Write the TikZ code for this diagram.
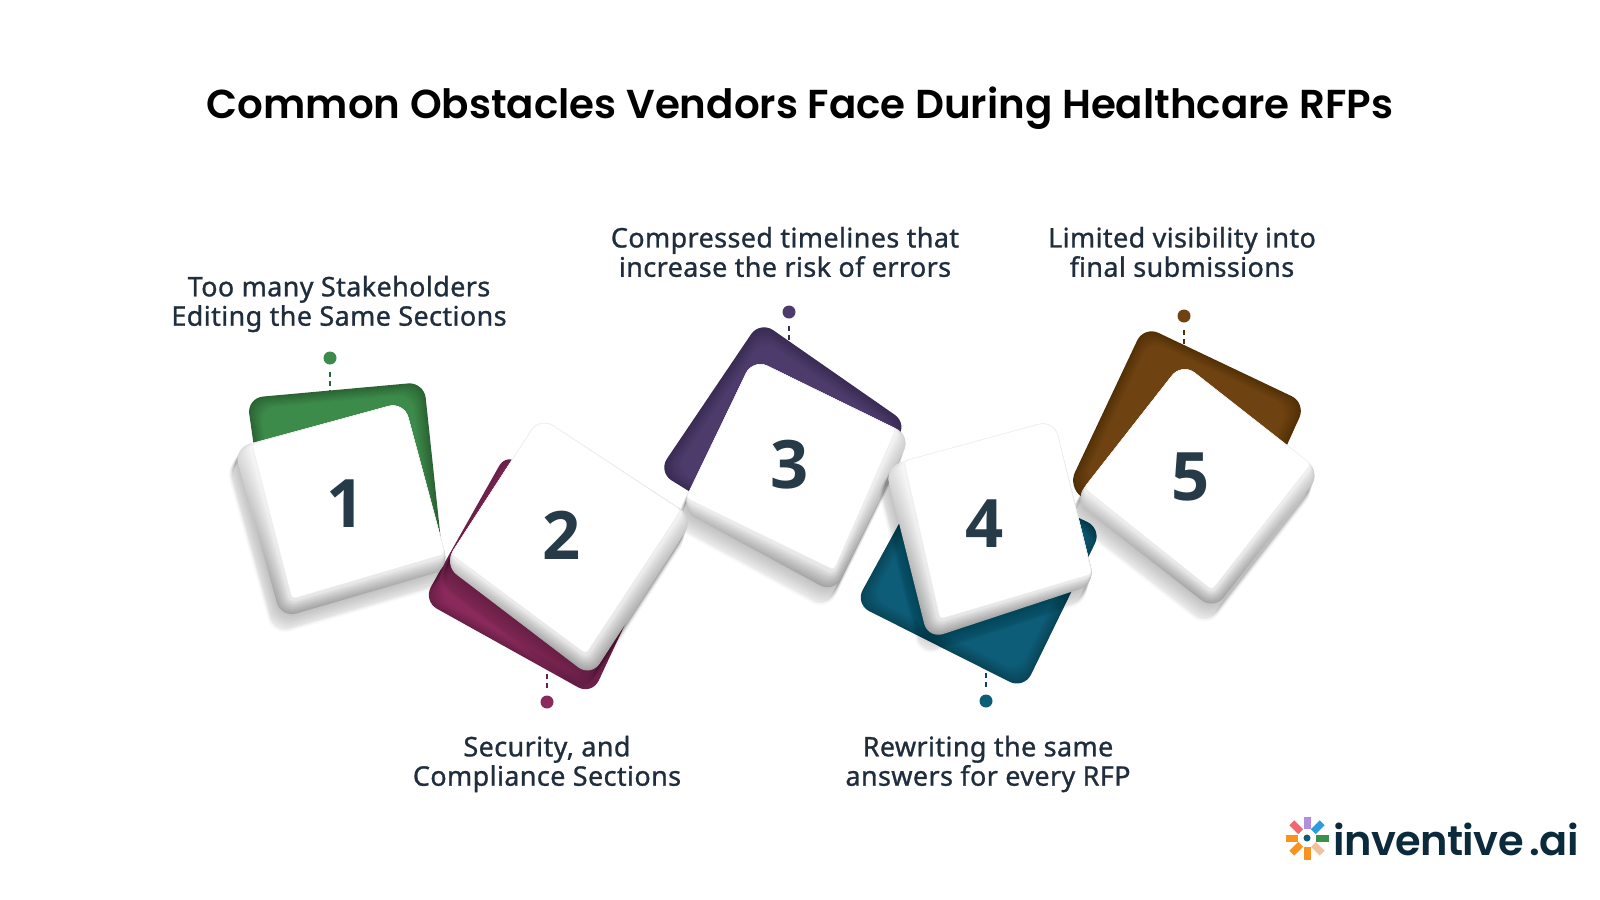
\documentclass[tikz,border=0pt]{standalone}
\usepackage{fontspec}
\usetikzlibrary{calc}
\setmainfont{Noto Sans}
\newfontfamily\titlefont{Poppins}[BoldFont={Poppins SemiBold}]
\newfontfamily\labelfont{Noto Sans}[LetterSpace=1.5,FakeBold=1]
\newfontfamily\numfont{Open Sans}
\newfontfamily\logofont{Poppins}[BoldFont={Poppins SemiBold},LetterSpace=-1.5]

\definecolor{inkdark}{HTML}{1F2D3D}
\definecolor{numink}{HTML}{263A48}
\definecolor{logoink}{HTML}{0B2A3C}
\definecolor{greenbase}{HTML}{3D8B4A}
\definecolor{greendark}{HTML}{2B6434}
\definecolor{plumbase}{HTML}{8A2A5C}
\definecolor{plumdark}{HTML}{6A2048}
\definecolor{purplebase}{HTML}{4C3B6B}
\definecolor{purpledark}{HTML}{3A2C54}
\definecolor{tealbase}{HTML}{0E5D78}
\definecolor{tealdark}{HTML}{094659}
\definecolor{brownbase}{HTML}{6F4311}
\definecolor{browndark}{HTML}{523007}

\tikzset{
	leaddot/.style={circle,fill=#1,inner sep=0pt,minimum size=.13cm},
	leadline/.style={#1,line width=.015cm,dash pattern=on .05cm off .04cm},
	obstacle/.style={font=\labelfont\fontsize{7.66}{8.35}\selectfont,text=inkdark,align=center},
	number/.style={font=\numfont\bfseries\fontsize{19}{19}\selectfont,text=numink}
}

% #1 base colour, #2 dark colour, #3 centre, #4 path
\newcommand{\backcard}[4]{
	\fill[#2,rounded corners=.16cm] #4;
	\foreach \st in {1,...,10}{
		\pgfmathsetmacro{\sc}{1-.014*\st}
		\pgfmathsetmacro{\pc}{10*\st}
		\fill[#1!\pc!#2,rounded corners=.16cm,shift={(#3)},scale=\sc,shift={($(0,0)-(#3)$)}] #4;
	}
}

% #1 prefix of the coordinates: a shared corner, a-d outer, e-h inner
\newcommand{\keycard}[1]{
	\foreach \st in {.1,.2,...,1}{
		\pgfmathsetmacro{\dx}{-7*\st}
		\pgfmathsetmacro{\dy}{16*\st}
		\pgfmathsetmacro{\wd}{.04*\st}
		\filldraw[black,opacity=.022,line width=\wd cm,line join=round,rounded corners=.16cm]
			($(#1a)+(\dx,\dy)$) -- ($(#1b)+(\dx,\dy)$) -- ($(#1c)+(\dx,\dy)$) -- ($(#1d)+(\dx,\dy)$) -- cycle;
	}
	\foreach \st in {0,.1,...,.9}{
		\pgfmathsetmacro{\pa}{36*(1-\st)^.8}
		\pgfmathsetmacro{\pb}{8*(1-\st)^.8}
		\pgfmathsetmacro{\rr}{.16-.12*\st}
		\shade[top color=black!\pb,bottom color=black!\pa,rounded corners=.16cm]
			($(#1a)!\st!(#1e)$) [rounded corners=\rr cm] -- ($(#1b)!\st!(#1f)$) -- ($(#1c)!\st!(#1g)$) -- ($(#1d)!\st!(#1h)$) [rounded corners=.16cm] -- cycle;
	}
	\filldraw[draw=black!7,fill=white,line width=.006cm,rounded corners=.16cm]
		(#1e) [rounded corners=.04cm] -- (#1f) -- (#1g) -- (#1h) [rounded corners=.16cm] -- cycle;
}

\begin{document}
\begin{tikzpicture}[x=.01cm,y=-.01cm]
	\useasboundingbox[fill=white] (0,0) rectangle (1600,900);

	\node[font=\titlefont\bfseries\fontsize{11.48}{14}\selectfont,text=black] (title) at (800,108) {Common Obstacles Vendors Face During Healthcare RFPs};

	% leaders
	\node[leaddot=greenbase] (dot1) at (330,358) {};
	\node[leaddot=plumbase] (dot2) at (547,702) {};
	\node[leaddot=purplebase] (dot3) at (789,312) {};
	\node[leaddot=tealbase] (dot4) at (986,701) {};
	\node[leaddot=brownbase] (dot5) at (1184,316) {};
	\coordinate (end1) at (330,395);
	\coordinate (end2) at (547,670);
	\coordinate (end3) at (789,345);
	\coordinate (end4) at (986,670);
	\coordinate (end5) at (1184,348);
	\draw[leadline=greendark] ([yshift=-.07cm]dot1.south) -- (end1);
	\draw[leadline=plumdark] ([yshift=.07cm]dot2.north) -- (end2);
	\draw[leadline=purpledark] ([yshift=-.07cm]dot3.south) -- (end3);
	\draw[leadline=tealdark] ([yshift=.07cm]dot4.north) -- (end4);
	\draw[leadline=browndark] ([yshift=-.07cm]dot5.south) -- (end5);

	\backcard{greenbase}{greendark}{340,470}{(247,398) -- (424,382) -- (443,560) -- (270,560) -- cycle}
	\backcard{plumbase}{plumdark}{530,580}{(507,452) -- (641,590) -- (592,695) -- (423,601) -- cycle}
	\backcard{purplebase}{purpledark}{780,450}{(760,321) -- (908,424) -- (800,560) -- (658,472) -- cycle}
	\backcard{tealbase}{tealdark}{985,560}{(855,604) -- (912,500) -- (1000,480) -- (1102,529) -- (1024,689) -- cycle}
	\backcard{brownbase}{browndark}{1185,430}{(1144,326) -- (1306,403) -- (1262,500) -- (1100,510) -- (1068,487) -- cycle}

	\coordinate (onea) at (404,402);
	\coordinate (oneb) at (449,569);
	\coordinate (onec) at (281,618);
	\coordinate (oned) at (234,448);
	\coordinate (onee) at (404,402);
	\coordinate (onef) at (445,554);
	\coordinate (oneg) at (292,599);
	\coordinate (oneh) at (252,444);

	\coordinate (twoa) at (540,417);
	\coordinate (twob) at (694,518);
	\coordinate (twoc) at (591,677);
	\coordinate (twod) at (444,565);
	\coordinate (twoe) at (540,417);
	\coordinate (twof) at (681,510);
	\coordinate (twog) at (586,654);
	\coordinate (twoh) at (451,554);

	\coordinate (threea) at (753,359);
	\coordinate (threeb) at (911,436);
	\coordinate (threec) at (834,593);
	\coordinate (threed) at (681,510);
	\coordinate (threee) at (753,359);
	\coordinate (threef) at (896,429);
	\coordinate (threeg) at (834,570);
	\coordinate (threeh) at (686,498);

	\coordinate (foura) at (1054,420);
	\coordinate (fourb) at (1095,584);
	\coordinate (fourc) at (928,639);
	\coordinate (fourd) at (885,467);
	\coordinate (foure) at (1054,420);
	\coordinate (fourf) at (1092,574);
	\coordinate (fourg) at (940,619);
	\coordinate (fourh) at (904,461);

	\coordinate (fivea) at (1182,363);
	\coordinate (fiveb) at (1321,473);
	\coordinate (fivec) at (1214,610);
	\coordinate (fived) at (1074,501);
	\coordinate (fivee) at (1182,363);
	\coordinate (fivef) at (1311,464);
	\coordinate (fiveg) at (1212,590);
	\coordinate (fiveh) at (1084,488);

	\keycard{five}
	\keycard{three}
	\keycard{one}
	\keycard{two}
	\keycard{four}

	\node[number] (num1) at (346,504) {1};
	\node[number] (num2) at (562,535) {2};
	\node[number] (num3) at (790,465) {3};
	\node[number] (num4) at (985,524) {4};
	\node[number] (num5) at (1191,477) {5};

	\node[obstacle] (text1) at (339,304) {Too many Stakeholders\\Editing the Same Sections};
	\node[obstacle] (text2) at (547,764) {Security, and\\Compliance Sections};
	\node[obstacle] (text3) at (785,252) {Compressed timelines that\\increase the risk of errors};
	\node[obstacle] (text4) at (988,764) {Rewriting the same\\answers for every RFP};
	\node[obstacle] (text5) at (1182,252) {Limited visibility into\\final submissions};

	% logo
	\coordinate (icon) at (1307,838);
	\foreach \ang/\col in {0/B08EE0,-45/2D9CDB,-90/3A8F4B,-135/F2C19E,180/F7931E,135/F7931E,90/F7931E,45/F0686E}{
		\definecolor{petal}{HTML}{\col}
		\fill[petal,rotate around={\ang:(icon)}] (1303.5,816.5) rectangle (1310.5,829);
	}
	\fill[tealbase] (icon) circle (3.5);
	\node[font=\logofont\bfseries\fontsize{11.8}{14}\selectfont,text=logoink,anchor=base west,inner sep=0pt] (logo) at (1333,855) {inventive\hspace{.06cm}.ai};
\end{tikzpicture}
\end{document}
